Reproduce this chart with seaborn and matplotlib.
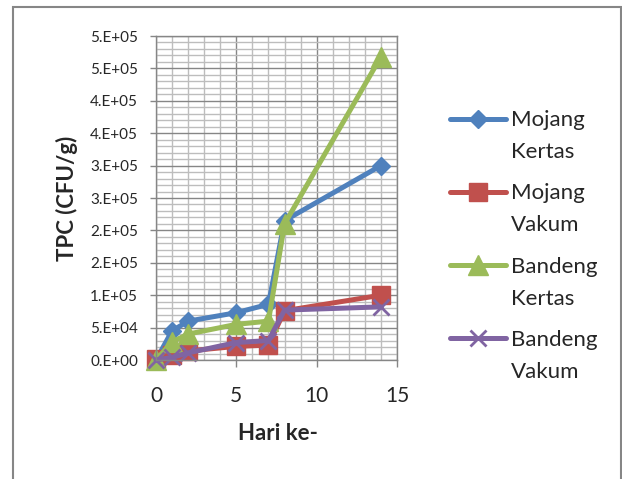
import numpy as np
import pandas as pd
import matplotlib
matplotlib.use("Agg")
import matplotlib.pyplot as plt
import seaborn as sns
from matplotlib.legend_handler import HandlerLine2D
from matplotlib.patches import Rectangle
from matplotlib.ticker import MultipleLocator, FixedLocator, FixedFormatter

# ---- data ----
days = [0, 1, 2, 5, 7, 8, 14]
mojang_kertas = [0, 45000, 60000, 73000, 86000, 215000, 300000]
mojang_vakum = [2000, 8000, 14000, 21000, 23000, 76000, 100000]
bandeng_kertas = [0, 28000, 40000, 55000, 60000, 210000, 468000]
bandeng_vakum = [0, 4000, 11000, 27000, 30000, 77000, 82000]
series_names = ["Mojang\nKertas", "Mojang\nVakum", "Bandeng\nKertas", "Bandeng\nVakum"]
y_ticks = [0, 50000, 100000, 150000, 200000, 250000, 300000, 350000, 400000, 450000, 500000]
y_tick_labels = ["0.E+00", "5.E+04", "1.E+05", "2.E+05", "2.E+05", "3.E+05",
                 "3.E+05", "4.E+05", "4.E+05", "5.E+05", "5.E+05"]
x_ticks = [0, 5, 10, 15]
x_tick_labels = ["0", "5", "10", "15"]
x_title = "Hari ke-"
y_title = "TPC (CFU/g)"

# ---- styles ----
colors = ["#4F81BD", "#C0504D", "#9BBB59", "#8064A2"]
markers = ["D", "s", "^", "x"]
msizes = [9, 13, 14, 12]

sns.set_style("white")
plt.rcParams["font.family"] = ["Lato", "DejaVu Sans"]

W, H = 622, 479
fig = plt.figure(figsize=(W / 100, H / 100), dpi=100)
L, R, T, B = 156, 397, 36, 360
ax = fig.add_axes([L / W, 1 - B / H, (R - L) / W, (B - T) / H])

all_series = [mojang_kertas, mojang_vakum, bandeng_kertas, bandeng_vakum]
for vals, name, c, m, ms in zip(all_series, series_names, colors, markers, msizes):
    df = pd.DataFrame({"day": days, "tpc": vals})
    sns.lineplot(data=df, x="day", y="tpc", ax=ax, color=c, marker=m, markersize=ms,
                 markeredgecolor=c, markerfacecolor=c, markeredgewidth=2.0 if m == "x" else 1.0,
                 linewidth=3.6, label=name, legend=False, clip_on=False,
                 solid_capstyle="round", solid_joinstyle="round")

ax.set_xlim(0, 15)
ax.set_ylim(0, 500000)
ax.xaxis.set_major_locator(FixedLocator(x_ticks))
ax.xaxis.set_major_formatter(FixedFormatter(x_tick_labels))
ax.yaxis.set_major_locator(FixedLocator(y_ticks))
ax.yaxis.set_major_formatter(FixedFormatter(y_tick_labels))
ax.xaxis.set_minor_locator(MultipleLocator(1))
ax.yaxis.set_minor_locator(MultipleLocator(10000))
ax.set_axisbelow(True)
ax.grid(which="minor", color="#BDBDBD", linewidth=1.0)
ax.grid(which="major", color="#868686", linewidth=1.0)
for s in ax.spines.values():
    s.set_color("#868686")
    s.set_linewidth(1.0)
ax.tick_params(which="minor", length=0)
ax.tick_params(axis="y", which="major", length=4.3, width=1, color="#868686",
               labelsize=11, pad=8.6, left=True, direction="out")
ax.tick_params(axis="x", which="major", length=5, width=1, color="#868686",
               labelsize=15, pad=14, bottom=True, direction="out")

ax.set_xlabel(x_title, fontsize=16, fontweight="bold")
ax.set_ylabel(y_title, fontsize=16, fontweight="bold")
ax.xaxis.set_label_coords((277.5 - L) / (R - L), -(433 - B) / (B - T))
ax.xaxis.label.set_verticalalignment("center")
ax.yaxis.set_label_coords((67 - L) / (R - L), 0.5)
ax.yaxis.label.set_verticalalignment("center")


class FirstLineHandler(HandlerLine2D):
    def __init__(self, shift_pt, **kw):
        super().__init__(**kw)
        self.shift_pt = shift_pt

    def create_artists(self, legend, orig_handle, xdescent, ydescent, width, height, fontsize, trans):
        arts = super().create_artists(legend, orig_handle, xdescent, ydescent, width, height, fontsize, trans)
        for a in arts:
            a.set_ydata(np.asarray(a.get_ydata(), dtype=float) + self.shift_pt)
        return arts


handles = ax.get_lines()[:4]
hmap = {h: FirstLineHandler(12.9, numpoints=1) for h in handles}
leg = ax.legend(handles, series_names, loc="center left",
                bbox_to_anchor=(450 / W, 1 - 246 / H), bbox_transform=fig.transFigure,
                frameon=False, borderpad=0, borderaxespad=0, handlelength=2.5,
                handletextpad=0.25, labelspacing=0.95, prop={"size": 16},
                handler_map=hmap)
for t in leg.get_texts():
    t.set_linespacing(1.75)

fig.add_artist(Rectangle((12.5 / W, -0.02), (620.5 - 12.5) / W, 1 - 6.5 / H + 0.02,
                         transform=fig.transFigure, fill=False, edgecolor="#868686",
                         linewidth=1.5))

fig.savefig("out.png", dpi=100)
